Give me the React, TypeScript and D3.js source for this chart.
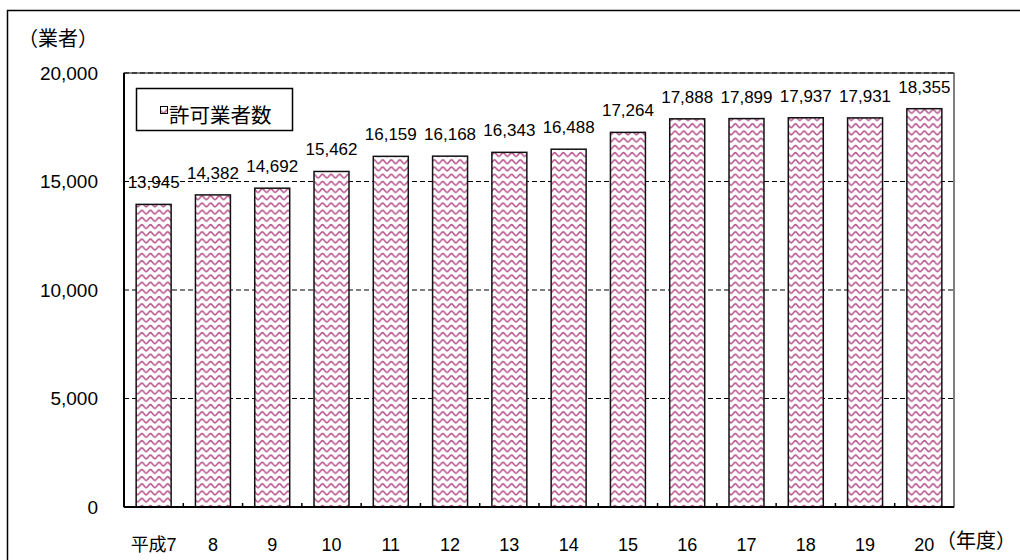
import React from "react";
import * as d3 from "d3";

// 許可業者数（年度別）
const years: string[] = ["平成7", "8", "9", "10", "11", "12", "13", "14", "15", "16", "17", "18", "19", "20"];
const counts: number[] = [13945, 14382, 14692, 15462, 16159, 16168, 16343, 16488, 17264, 17888, 17899, 17937, 17931, 18355];
const yTicks: number[] = [0, 5000, 10000, 15000, 20000];
const seriesName = "許可業者数";
const yUnit = "（業者）";
const xUnit = "（年度）";

const W = 1020;
const H = 560;
const plot = { left: 124, right: 954, top: 73, bottom: 507 };
const FONT = '"Liberation Sans", Arial, "Noto Sans CJK JP", sans-serif';
const JP_FONT = '"Noto Sans CJK JP", sans-serif';
const BAR_STROKE = "#111";
const WAVE = "#b5508a";

export default function App() {
  const x = d3
    .scaleBand<string>()
    .domain(years)
    .range([plot.left, plot.right])
    .paddingInner(0.41)
    .paddingOuter(0.205);
  const y = d3.scaleLinear().domain([0, 20000]).range([plot.bottom, plot.top]);
  const fmt = d3.format(",");
  const step = x.step();

  // short tick marks between categories on the category axis
  const boundaries = d3.range(1, years.length).map((i) => plot.left + i * step);

  return (
    <svg
      width={W}
      height={H}
      style={{ position: "absolute", left: 0, top: 0, background: "#fff" }}
      fontFamily={FONT}
    >
      <defs>
        <pattern id="wave" patternUnits="userSpaceOnUse" width={8.6} height={7.2}>
          <rect width={8.6} height={7.2} fill="#fff" />
          <path
            d="M0,5.3 C1.5,5.3 2.8,1.5 4.3,1.5 C5.8,1.5 7.1,5.3 8.6,5.3"
            fill="none"
            stroke={WAVE}
            strokeWidth={1.5}
          />
        </pattern>
      </defs>

      {/* outer frame */}
      <rect x={7.5} y={10.5} width={W} height={H} fill="none" stroke="#000" strokeWidth={1.5} />

      {/* plot area frame */}
      <rect
        x={plot.left}
        y={plot.top}
        width={plot.right - plot.left}
        height={plot.bottom - plot.top}
        fill="none"
        stroke="#000"
        strokeWidth={1}
      />

      {/* dashed gridlines */}
      {yTicks
        .filter((t) => t > 0)
        .map((t) => (
          <line
            key={t}
            x1={plot.left}
            x2={plot.right}
            y1={y(t)}
            y2={y(t)}
            stroke="#000"
            strokeWidth={1}
            strokeDasharray="5,3"
          />
        ))}

      {/* y tick labels */}
      {yTicks.map((t) => (
        <text
          key={t}
          x={98}
          y={y(t)}
          textAnchor="end"
          dominantBaseline="central"
          fontSize={19}
          fill="#000"
        >
          {fmt(t)}
        </text>
      ))}

      {/* bars */}
      {years.map((yr, i) => (
        <rect
          key={yr}
          x={x(yr)!}
          y={y(counts[i])}
          width={x.bandwidth()}
          height={plot.bottom - y(counts[i])}
          fill="url(#wave)"
          stroke={BAR_STROKE}
          strokeWidth={1.5}
        />
      ))}

      {/* value labels */}
      {years.map((yr, i) => (
        <text
          key={yr}
          x={x(yr)! + x.bandwidth() / 2}
          y={y(counts[i]) - 16}
          textAnchor="middle"
          fontSize={17}
          fill="#000"
        >
          {fmt(counts[i])}
        </text>
      ))}

      {/* axes */}
      <line x1={plot.left} x2={plot.left} y1={plot.top} y2={plot.bottom} stroke="#000" strokeWidth={2} />
      <line x1={plot.left} x2={plot.right} y1={plot.bottom} y2={plot.bottom} stroke="#000" strokeWidth={2} />
      {boundaries.map((bx) => (
        <line key={bx} x1={bx} x2={bx} y1={plot.bottom} y2={plot.bottom - 4} stroke="#000" strokeWidth={1.5} />
      ))}

      {/* category labels */}
      {years.map((yr) => (
        <text
          key={yr}
          x={x(yr)! + x.bandwidth() / 2}
          y={551}
          textAnchor="middle"
          fontSize={18}
          fill="#000"
        >
          {yr}
        </text>
      ))}

      {/* axis units */}
      <text x={18} y={46} fontSize={20} fill="#000" fontFamily={JP_FONT}>
        {yUnit}
      </text>
      <text x={936} y={548} fontSize={20} fill="#000" fontFamily={JP_FONT}>
        {xUnit}
      </text>

      {/* legend */}
      <rect x={136.5} y={88.5} width={156} height={42} fill="#fff" stroke="#000" strokeWidth={1.5} />
      <rect x={160.5} y={106.5} width={7} height={7} fill="url(#wave)" stroke="#000" strokeWidth={1} />
      <text x={169} y={123} fontSize={20.5} fill="#000" fontFamily={JP_FONT}>
        {seriesName}
      </text>
    </svg>
  );
}
